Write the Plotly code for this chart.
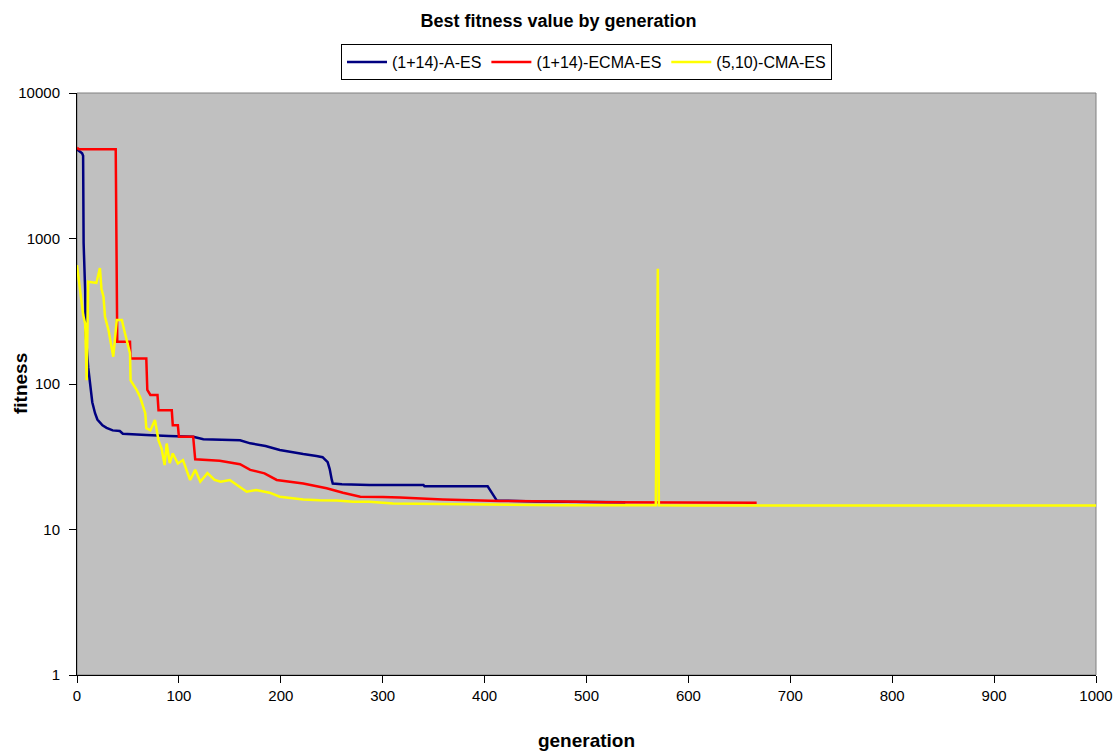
import plotly.graph_objects as go

# (1+14)-A-ES
gen_a = [0, 3, 5, 6, 6.5, 8, 8.5, 11, 12.7, 15, 17.7, 20, 25, 29, 35, 42, 45, 55, 68, 90, 114, 124, 140,
         160, 170, 185, 199, 210, 222, 235, 241, 246, 248, 250, 251, 260, 287, 340, 341, 403, 412, 450, 500, 538]
fit_a = [4100, 3950, 3850, 3700, 930, 440, 224, 130, 101, 75, 63, 57, 52, 50, 48, 47.5, 45.5, 45, 44.6, 44,
         43.4, 41.7, 41.3, 41.1, 39.1, 37.5, 35.2, 34, 33, 32, 31.4, 29, 26, 22, 20.7, 20.5, 20.2, 20.2,
         19.8, 19.8, 15.8, 15.6, 15.5, 15.4]

# (1+14)-ECMA-ES
gen_e = [0, 2, 38, 38.5, 39, 39.5, 52, 52.5, 68, 69, 72, 79, 80, 93, 94, 99, 100, 114, 116, 140, 160, 170,
         184, 196, 222, 245, 261, 278, 300, 317, 359, 415, 474, 520, 667]
fit_e = [4200, 4100, 4100, 930, 290, 195, 195, 150, 150, 91, 84, 84, 66, 66, 52, 52, 43.4, 43.4, 30.4,
         29.7, 28.1, 25.7, 24.3, 21.9, 20.7, 19.2, 17.9, 16.8, 16.7, 16.6, 16.1, 15.7, 15.6, 15.4, 15.3]

# (5,10)-CMA-ES
gen_c = [0, 2, 4.6, 6, 8, 9.5, 11, 15, 19, 22.5, 24, 26, 27.5, 31, 35.6, 39, 44, 47, 52, 52.6, 58.5, 62,
         67, 68, 72, 76.5, 80, 83, 86, 88, 91, 94, 99, 104, 111, 116, 121, 128, 135, 141, 150, 157, 166.5,
         176, 189, 199, 222, 238, 255, 271, 287, 310, 350, 400, 474, 568, 569, 570, 571, 600, 700, 800,
         900, 1000]
fit_c = [657, 519, 378, 300, 260, 106, 505, 500, 495, 627, 450, 398, 290, 233, 154, 275, 275, 224, 163,
         106, 91, 81, 63, 49.7, 48, 56.6, 41, 36, 27.7, 39, 28.6, 33.3, 28.4, 30, 21.9, 25.7, 21.3, 24.4,
         21.9, 21.3, 21.9, 20.2, 18.2, 18.7, 17.9, 16.8, 16.1, 15.9, 15.8, 15.5, 15.5, 15.1, 15.0, 14.9,
         14.7, 14.7, 150, 620, 14.7, 14.6, 14.6, 14.6, 14.6, 14.6]

x_ticks = [0, 100, 200, 300, 400, 500, 600, 700, 800, 900, 1000]
y_ticks = [1, 10, 100, 1000, 10000]

font = "Liberation Sans, Arial, sans-serif"

fig = go.Figure()
fig.add_trace(go.Scatter(x=gen_a, y=fit_a, mode="lines", name="(1+14)-A-ES",
                         line=dict(color="#000080", width=2.5)))
fig.add_trace(go.Scatter(x=gen_e, y=fit_e, mode="lines", name="(1+14)-ECMA-ES",
                         line=dict(color="#FF0000", width=2.5)))
fig.add_trace(go.Scatter(x=gen_c, y=fit_c, mode="lines", name="(5,10)-CMA-ES",
                         line=dict(color="#FFFF00", width=2.5)))

fig.update_layout(
    width=1117, height=753,
    margin=dict(l=77, r=21, t=93, b=78),
    paper_bgcolor="white", plot_bgcolor="#C0C0C0",
    font=dict(family=font, size=15, color="black"),
    title=dict(text="<b>Best fitness value by generation</b>", x=0.5, xanchor="center",
               y=0.973, yanchor="middle", font=dict(size=18)),
    legend=dict(orientation="h", x=0.5, xanchor="center", y=1.022, yanchor="bottom",
                bordercolor="black", borderwidth=1, bgcolor="white",
                font=dict(size=16), itemwidth=40, tracegroupgap=0),
    showlegend=True,
)
fig.update_xaxes(range=[0, 1000], tickvals=x_ticks, ticktext=[str(v) for v in x_ticks],
                 showgrid=False, zeroline=False, showline=True, linecolor="black", linewidth=1,
                 ticks="outside", ticklen=7, tickcolor="black", automargin=False,
                 title=dict(text="<b>generation</b>", font=dict(size=19), standoff=30))
fig.update_yaxes(type="log", range=[0, 4], tickvals=y_ticks, ticktext=[str(v) for v in y_ticks],
                 showgrid=False, zeroline=False, showline=True, linecolor="black", linewidth=1,
                 ticks="outside", ticklen=7, tickcolor="black", automargin=False,
                 ticklabelstandoff=6)
fig.add_annotation(text="<b>fitness</b>", xref="paper", yref="paper", x=0, y=0.5,
                   xanchor="center", yanchor="middle", xshift=-57, textangle=-90,
                   showarrow=False, font=dict(size=19))
fig.add_shape(type="rect", xref="paper", yref="paper", x0=0, x1=1, y0=0, y1=1,
              line=dict(color="#808080", width=1), layer="below")
fig.write_html("out.html", config={"displayModeBar": False},
               post_script="document.body.style.margin='0';document.body.style.overflow='hidden';")
